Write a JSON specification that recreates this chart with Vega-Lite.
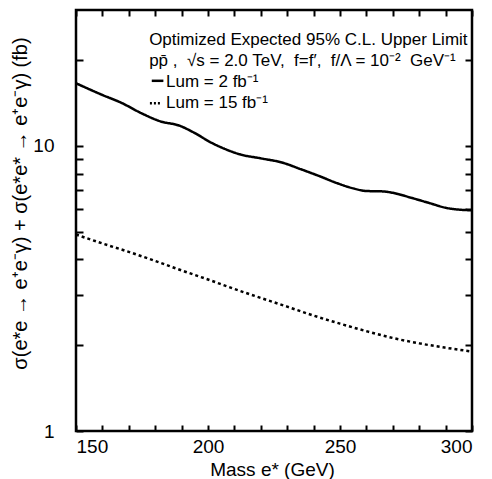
{
  "$schema": "https://vega.github.io/schema/vega-lite/v6.json",
  "width": 396,
  "height": 421,
  "autosize": {"type": "none"},
  "padding": {"left": 76, "top": 10, "right": 20, "bottom": 48},
  "config": {
    "view": {"stroke": "black", "strokeWidth": 2.5},
    "axis": {"domain": false}
  },
  "datasets": {
    "curves": [
      {"mass": 150, "sigma": 16.6, "lum": "2"},
      {"mass": 160, "sigma": 15.1, "lum": "2"},
      {"mass": 167, "sigma": 14.2, "lum": "2"},
      {"mass": 175, "sigma": 13.0, "lum": "2"},
      {"mass": 182, "sigma": 12.2, "lum": "2"},
      {"mass": 189, "sigma": 11.8, "lum": "2"},
      {"mass": 195, "sigma": 11.1, "lum": "2"},
      {"mass": 201, "sigma": 10.3, "lum": "2"},
      {"mass": 206, "sigma": 9.8, "lum": "2"},
      {"mass": 212, "sigma": 9.35, "lum": "2"},
      {"mass": 220, "sigma": 9.05, "lum": "2"},
      {"mass": 228, "sigma": 8.75, "lum": "2"},
      {"mass": 235, "sigma": 8.3, "lum": "2"},
      {"mass": 242, "sigma": 7.85, "lum": "2"},
      {"mass": 249, "sigma": 7.4, "lum": "2"},
      {"mass": 255, "sigma": 7.1, "lum": "2"},
      {"mass": 260, "sigma": 6.95, "lum": "2"},
      {"mass": 266, "sigma": 6.93, "lum": "2"},
      {"mass": 270, "sigma": 6.85, "lum": "2"},
      {"mass": 277, "sigma": 6.58, "lum": "2"},
      {"mass": 284, "sigma": 6.3, "lum": "2"},
      {"mass": 290, "sigma": 6.07, "lum": "2"},
      {"mass": 295, "sigma": 5.98, "lum": "2"},
      {"mass": 300, "sigma": 5.95, "lum": "2"},
      {"mass": 150, "sigma": 4.89, "lum": "15"},
      {"mass": 160, "sigma": 4.55, "lum": "15"},
      {"mass": 170, "sigma": 4.25, "lum": "15"},
      {"mass": 180, "sigma": 3.95, "lum": "15"},
      {"mass": 190, "sigma": 3.66, "lum": "15"},
      {"mass": 200, "sigma": 3.40, "lum": "15"},
      {"mass": 210, "sigma": 3.15, "lum": "15"},
      {"mass": 220, "sigma": 2.93, "lum": "15"},
      {"mass": 230, "sigma": 2.73, "lum": "15"},
      {"mass": 240, "sigma": 2.54, "lum": "15"},
      {"mass": 250, "sigma": 2.38, "lum": "15"},
      {"mass": 260, "sigma": 2.24, "lum": "15"},
      {"mass": 270, "sigma": 2.12, "lum": "15"},
      {"mass": 280, "sigma": 2.03, "lum": "15"},
      {"mass": 290, "sigma": 1.96, "lum": "15"},
      {"mass": 300, "sigma": 1.90, "lum": "15"}
    ],
    "one": [{}]
  },
  "layer": [
    {
      "data": {"name": "curves"},
      "mark": {"type": "line", "color": "black", "strokeWidth": 2.5, "interpolate": "monotone"},
      "encoding": {
        "x": {"field": "mass", "type": "quantitative",
          "scale": {"domain": [150, 300], "nice": false, "zero": false},
          "axis": {"orient": "bottom", "values": [150,160,170,180,190,200,210,220,230,240,250,260,270,280,290,300], "grid": false,
            "tickColor": "#000000", "tickWidth": 2, "tickSize": -6,
            "labelExpr": "datum.value % 50 === 0 ? datum.label : ''",
            "labelFont": "Liberation Sans", "labelFontSize": 19, "labelColor": "black", "labelPadding": 12,
            "title": "Mass e* (GeV)", "titleFont": "Liberation Sans", "titleFontWeight": "normal", "titleColor": "black", "titleFontSize": 19, "titleX": 196, "titleY": 38, "titleBaseline": "middle"}},
        "y": {"field": "sigma", "type": "quantitative",
          "scale": {"type": "log", "domain": [1, 30], "nice": false},
          "axis": {"orient": "left", "values": [1,2,3,4,5,6,7,8,9,10,20], "grid": false,
            "tickColor": "#000000", "tickWidth": 2, "tickSize": 7, "offset": -7,
            "labelExpr": "datum.value === 1 ? '1' : datum.value === 10 ? '10' : ''",
            "labelFont": "Liberation Sans", "labelFontSize": 19, "labelColor": "black", "labelPadding": 22,
            "title": "σ(e*e → e⁺e⁻γ) + σ(e*e* → e⁺e⁻γ) (fb)", "titleFont": "Liberation Sans", "titleFontWeight": "normal", "titleColor": "black", "titleFontSize": 20,
            "titleX": -63, "titleY": 193, "titleAngle": -90, "titleAlign": "center", "titleBaseline": "middle"}},
        "strokeDash": {"field": "lum", "type": "nominal", "scale": {"domain": ["2", "15"], "range": [[1, 0], [3, 3]]}, "legend": null}
      }
    },
    {
      "data": {"name": "one"},
      "mark": {"type": "point", "opacity": 0},
      "encoding": {
        "x": {"datum": 150, "type": "quantitative",
          "axis": {"orient": "top", "values": [150,160,170,180,190,200,210,220,230,240,250,260,270,280,290,300], "labelExpr": "''", "title": null, "grid": false, "tickColor": "#000000", "tickWidth": 2, "tickSize": -6}},
        "y": {"datum": 1, "type": "quantitative",
          "axis": {"orient": "right", "values": [1,2,3,4,5,6,7,8,9,10,20], "labelExpr": "''", "title": null, "grid": false, "tickColor": "#000000", "tickWidth": 2, "tickSize": 7, "offset": -7}}
      }
    },
    {
      "data": {"name": "one"},
      "mark": {"type": "text", "align": "left", "baseline": "middle", "fontSize": 17, "font": "Liberation Sans", "color": "black"},
      "encoding": {
        "x": {"datum": 177.7, "type": "quantitative", "axis": null},
        "y": {"datum": 23.5, "type": "quantitative", "axis": null},
        "text": {"value": "Optimized Expected 95% C.L. Upper Limit"}
      }
    },
    {
      "data": {"name": "one"},
      "mark": {"type": "text", "align": "left", "baseline": "middle", "fontSize": 17, "font": "Liberation Sans", "color": "black"},
      "encoding": {
        "x": {"datum": 177.7, "type": "quantitative", "axis": null},
        "y": {"datum": 19.9, "type": "quantitative", "axis": null},
        "text": {"value": "pp̄ ,\u00a0 √s = 2.0 TeV,\u00a0 f=f′,\u00a0 f/Λ = 10⁻²\u00a0 GeV⁻¹"}
      }
    },
    {
      "data": {"name": "one"},
      "mark": {"type": "text", "align": "left", "baseline": "middle", "fontSize": 17, "font": "Liberation Sans", "color": "black"},
      "encoding": {
        "x": {"datum": 184.1, "type": "quantitative", "axis": null},
        "y": {"datum": 16.8, "type": "quantitative", "axis": null},
        "text": {"value": "Lum = 2 fb⁻¹"}
      }
    },
    {
      "data": {"name": "one"},
      "mark": {"type": "text", "align": "left", "baseline": "middle", "fontSize": 17, "font": "Liberation Sans", "color": "black"},
      "encoding": {
        "x": {"datum": 184.1, "type": "quantitative", "axis": null},
        "y": {"datum": 14.1, "type": "quantitative", "axis": null},
        "text": {"value": "Lum = 15 fb⁻¹"}
      }
    },
    {
      "data": {"name": "one"},
      "mark": {"type": "rule", "color": "black", "strokeWidth": 2.5},
      "encoding": {
        "x": {"datum": 178.7, "type": "quantitative", "axis": null},
        "x2": {"datum": 183.1},
        "y": {"datum": 16.93, "type": "quantitative", "axis": null}
      }
    },
    {
      "data": {"name": "one"},
      "mark": {"type": "rule", "color": "black", "strokeWidth": 2.5, "strokeDash": [2, 2]},
      "encoding": {
        "x": {"datum": 178.0, "type": "quantitative", "axis": null},
        "x2": {"datum": 182.5},
        "y": {"datum": 14.13, "type": "quantitative", "axis": null}
      }
    }
  ],
  "resolve": {"axis": {"x": "independent", "y": "independent"}}
}
